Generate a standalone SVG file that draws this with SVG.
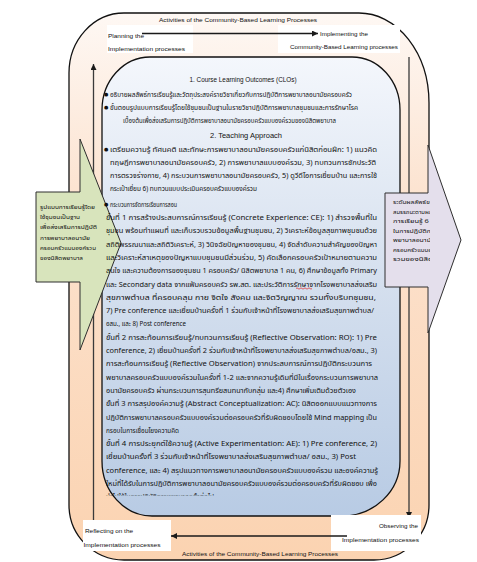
<svg xmlns="http://www.w3.org/2000/svg" width="477" height="562" viewBox="0 0 477 562">
<defs>
  <linearGradient id="gOuter" x1="0" y1="0" x2="0" y2="1">
    <stop offset="0" stop-color="#fef8f4"/>
    <stop offset="0.35" stop-color="#fce2ce"/>
    <stop offset="1" stop-color="#fbd3b1"/>
  </linearGradient>
  <linearGradient id="gInner" x1="0" y1="0" x2="0" y2="1">
    <stop offset="0" stop-color="#f4f7fc"/>
    <stop offset="0.5" stop-color="#d4dfee"/>
    <stop offset="1" stop-color="#b8cbe4"/>
  </linearGradient>
  <marker id="ah" viewBox="0 0 10 10" refX="10" refY="5" markerWidth="6" markerHeight="6" markerUnits="userSpaceOnUse" orient="auto">
    <path d="M0,0 L10,5 L0,10 z" fill="#1a1a1a"/>
  </marker>
  <clipPath id="cpInner"><rect x="100" y="50" width="300" height="445.5"/></clipPath>
  <clipPath id="cpR"><rect x="385" y="190" width="45" height="81"/></clipPath>
  <style>
    .th { font-family: 'Noto Sans Thai', 'Noto Sans Thai UI', Tahoma, 'Leelawadee UI', 'Noto Sans', 'DejaVu Sans', sans-serif; font-size: 7px; fill: #111; }
    .ths { font-family: 'Noto Sans Thai', 'Noto Sans Thai UI', Tahoma, 'Leelawadee UI', 'Noto Sans', 'DejaVu Sans', sans-serif; font-size: 6px; fill: #111; }
    .en { font-family: 'Liberation Sans', Arial, sans-serif; font-size: 7px; fill: #111; }
    .lbl { font-family: 'Liberation Sans', Arial, sans-serif; font-size: 6px; fill: #111; }
    .bul { font-family: 'DejaVu Sans', sans-serif; font-size: 5px; fill: #111; }
    .conn { stroke: #3a3a3a; stroke-width: 1.3; fill: none; }
    .hconn { stroke: #1a1a1a; stroke-width: 1.5; fill: none; }
    .wbox { fill: #ffffff; stroke: none; }
  </style>
</defs>

<rect x="0" y="0" width="477" height="562" fill="#ffffff"/>

<g id="outer-cycle">
  <path d="M124 13 H359 A70 90 0 0 1 429 103 V505 A55 55 0 0 1 374 560 H124 A55 55 0 0 1 69 505 V73 A55 60 0 0 1 124 13 Z" fill="url(#gOuter)" stroke="#111" stroke-width="1.3"/>
</g>

<g id="inner-content-box">
  <path d="M150 57 H352 A48 53 0 0 1 400 110 V461 A58 55 0 0 1 342 516 H152 A50 55 0 0 1 102 461 V110 A48 53 0 0 1 150 57 Z" fill="url(#gInner)" stroke="#111" stroke-width="1.3"/>
</g>

<g id="connectors-vertical">
  <line class="conn" x1="93.5" y1="530" x2="93.5" y2="64" marker-end="url(#ah)"/>
  <line class="conn" x1="409" y1="57" x2="409" y2="518" marker-end="url(#ah)"/>
</g>

<g id="node-planning">
  <rect class="wbox" x="107" y="25" width="86" height="28"/>
  <text class="lbl" x="108" y="37.5" textLength="36" lengthAdjust="spacingAndGlyphs">Planning the</text>
  <text class="lbl" x="108" y="50.5" textLength="77" lengthAdjust="spacingAndGlyphs">Implementation processes</text>
</g>

<g id="node-implementing">
  <rect class="wbox" x="278" y="25" width="122" height="28"/>
  <text class="lbl" x="320" y="36" textLength="48" lengthAdjust="spacingAndGlyphs">Implementing the</text>
  <text class="lbl" x="290" y="49" textLength="108" lengthAdjust="spacingAndGlyphs">Community-Based Learning processes</text>
</g>

<g id="node-reflecting">
  <rect class="wbox" x="83" y="520" width="88" height="31"/>
  <text class="lbl" x="85" y="532.5" textLength="48" lengthAdjust="spacingAndGlyphs">Reflecting on the</text>
  <text class="lbl" x="83.5" y="546.5" textLength="77" lengthAdjust="spacingAndGlyphs">Implementation processes</text>
</g>

<g id="node-observing">
  <rect class="wbox" x="331" y="515" width="90" height="36"/>
  <text class="lbl" x="379" y="527.5" textLength="39" lengthAdjust="spacingAndGlyphs">Observing the</text>
  <text class="lbl" x="342" y="541.5" textLength="77" lengthAdjust="spacingAndGlyphs">Implementation processes</text>
</g>

<g id="connectors">
  <line class="hconn" x1="142" y1="33.5" x2="318" y2="33.5" marker-end="url(#ah)"/>
  <line class="hconn" x1="347" y1="536" x2="171" y2="536" marker-end="url(#ah)"/>
</g>

<g id="cycle-labels">
  <text class="lbl" x="238" y="22" text-anchor="middle" textLength="158" lengthAdjust="spacingAndGlyphs">Activities of the Community-Based Learning Processes</text>
  <text class="lbl" x="260" y="556" text-anchor="middle" textLength="156" lengthAdjust="spacingAndGlyphs">Activities of the Community-Based Learning Processes</text>
</g>

<g id="node-input-arrow">
  <polygon points="36,192 80,192 80,139 121,243 80,350 80,282 36,282" fill="#d8e4bc" stroke="#2e2e2e" stroke-width="1"/>
  <text class="ths" x="40" y="209" textLength="55" lengthAdjust="spacingAndGlyphs">รูปแบบการเรียนรู้โดย</text>
  <text class="ths" x="40" y="219" textLength="40" lengthAdjust="spacingAndGlyphs">ใช้ชุมชนเป็นฐาน</text>
  <text class="ths" x="40" y="229" textLength="57" lengthAdjust="spacingAndGlyphs">เพื่อส่งเสริมการปฏิบัติ</text>
  <text class="ths" x="40" y="239.5" textLength="50" lengthAdjust="spacingAndGlyphs">การพยาบาลอนามัย</text>
  <text class="ths" x="40" y="250" textLength="56" lengthAdjust="spacingAndGlyphs">ครอบครัวแบบองค์รวม</text>
  <text class="ths" x="40" y="260" textLength="43" lengthAdjust="spacingAndGlyphs">ของนิสิตพยาบาล</text>
</g>

<g id="node-output-arrow">
  <polygon points="385,193 428,193 428,145 461,240 428,333 428,287 385,287" fill="#e4dfec" stroke="#2e2e2e" stroke-width="1"/>
  <g clip-path="url(#cpR)">
    <text class="ths" x="393" y="204" textLength="44" lengthAdjust="spacingAndGlyphs">ระดับผลลัพธ์ของ</text>
    <text class="ths" x="393" y="213.5" textLength="50" lengthAdjust="spacingAndGlyphs">สมรรถนะตามผลลัพธ์</text>
    <text class="ths" x="393" y="223" textLength="50" lengthAdjust="spacingAndGlyphs">การเรียนรู้ 6 ด้าน</text>
    <text class="ths" x="393" y="232.5" textLength="44" lengthAdjust="spacingAndGlyphs">ในการปฏิบัติการ</text>
    <text class="ths" x="393" y="242" textLength="42" lengthAdjust="spacingAndGlyphs">พยาบาลอนามัย</text>
    <text class="ths" x="393" y="251.5" textLength="46" lengthAdjust="spacingAndGlyphs">ครอบครัวแบบองค์</text>
    <text class="ths" x="393" y="261" textLength="40" lengthAdjust="spacingAndGlyphs">รวมของนิสิต</text>
    <text class="ths" x="415" y="273.5" textLength="18" lengthAdjust="spacingAndGlyphs">พยาบาล</text>
  </g>
</g>

<g id="node-content-text" clip-path="url(#cpInner)">
  <text class="en" x="243" y="81.5" text-anchor="middle" textLength="107" lengthAdjust="spacingAndGlyphs">1.  Course Learning Outcomes (CLOs)</text>
  <text class="bul" x="104" y="96">●</text>
  <text class="th" x="110" y="96.5" textLength="242" lengthAdjust="spacingAndGlyphs">อธิบายผลลัพธ์การเรียนรู้และวัตถุประสงค์รายวิชาเกี่ยวกับการปฏิบัติการพยาบาลอนามัยครอบครัว</text>
  <text class="bul" x="104" y="109">●</text>
  <text class="th" x="110" y="109.5" textLength="248" lengthAdjust="spacingAndGlyphs">ขั้นตอนรูปแบบการเรียนรู้โดยใช้ชุมชนเป็นฐานในรายวิชาปฏิบัติการพยาบาลชุมชนและการรักษาโรค</text>
  <text class="th" x="123" y="122.5" textLength="213" lengthAdjust="spacingAndGlyphs">เบื้องต้นเพื่อส่งเสริมการปฏิบัติการพยาบาลอนามัยครอบครัวแบบองค์รวมของนิสิตพยาบาล</text>
  <text class="en" x="246" y="137.5" text-anchor="middle" textLength="72" lengthAdjust="spacingAndGlyphs">2.  Teaching Approach</text>

  <text class="bul" x="104" y="151">●</text>
  <text class="th" x="110" y="151.5" textLength="267" lengthAdjust="spacingAndGlyphs">เตรียมความรู้ ทัศนคติ และทักษะการพยาบาลอนามัยครอบครัวแก่นิสิตก่อนฝึก: 1) แนวคิด</text>
  <text class="th" x="110" y="164.5" textLength="266" lengthAdjust="spacingAndGlyphs">ทฤษฎีการพยาบาลอนามัยครอบครัว, 2) การพยาบาลแบบองค์รวม, 3) ทบทวนการซักประวัติ</text>
  <text class="th" x="110" y="177.5" textLength="267" lengthAdjust="spacingAndGlyphs">การตรวจร่างกาย, 4) กระบวนการพยาบาลอนามัยครอบครัว, 5) ดูวีดีโอการเยี่ยมบ้าน  และการใช้</text>
  <text class="th" x="110" y="190.5" textLength="147" lengthAdjust="spacingAndGlyphs">กระเป๋าเยี่ยม 6) ทบทวนแบบประเมินครอบครัวแบบองค์รวม</text>
  <text class="bul" x="104" y="206">●</text>
  <text class="th" x="110" y="206.5" textLength="67" lengthAdjust="spacingAndGlyphs">กระบวนการจัดการเรียนการสอน</text>

  <text class="th" x="106" y="220" textLength="271" lengthAdjust="spacingAndGlyphs">ขั้นที่ 1 การสร้างประสบการณ์การเรียนรู้ (Concrete Experience: CE): 1) สำรวจพื้นที่ใน</text>
  <text class="th" x="106" y="233.3" textLength="271" lengthAdjust="spacingAndGlyphs">ชุมชน พร้อมทำแผนที่ และเก็บรวบรวมข้อมูลพื้นฐานชุมชน, 2) วิเคราะห์ข้อมูลสุขภาพชุมชนด้วย</text>
  <text class="th" x="106" y="246.6" textLength="271" lengthAdjust="spacingAndGlyphs">สถิติพรรณนาและสถิติวิเคราะห์, 3) วินิจฉัยปัญหาของชุมชน, 4) จัดลำดับความสำคัญของปัญหา</text>
  <text class="th" x="106" y="259.9" textLength="271" lengthAdjust="spacingAndGlyphs">และวิเคราะห์สาเหตุของปัญหาแบบชุมชนมีส่วนร่วม, 5) คัดเลือกครอบครัวเป้าหมายตามความ</text>
  <text class="th" x="106" y="273.2" textLength="271" lengthAdjust="spacingAndGlyphs">สนใจ และความต้องการของชุมชน 1 ครอบครัว/ นิสิตพยาบาล 1 คน, 6) ศึกษาข้อมูลทั้ง Primary</text>
  <text class="th" x="106" y="286.5" textLength="271" lengthAdjust="spacingAndGlyphs">และ Secondary data จากแฟ้มครอบครัว รพ.สต. และประวัติการรักษาจากโรงพยาบาลส่งเสริม</text>
  <path d="M296 288.5 q1 -1.3 2 0 t2 0 t2 0 t2 0 t2 0 t2 0 t2 0 t2 0" fill="none" stroke="#e02020" stroke-width="0.7"/>
  <text class="th" x="106" y="299.8" textLength="270" lengthAdjust="spacingAndGlyphs">สุขภาพตำบล ที่ครอบคลุม กาย จิตใจ สังคม และจิตวิญญาณ รวมทั้งบริบทชุมชน,</text>
  <text class="th" x="106" y="313.1" textLength="268" lengthAdjust="spacingAndGlyphs">7) Pre conference และเยี่ยมบ้านครั้งที่ 1 ร่วมกับเจ้าหน้าที่โรงพยาบาลส่งเสริมสุขภาพตำบล/</text>
  <text class="th" x="106" y="326.4" textLength="80" lengthAdjust="spacingAndGlyphs">อสม., และ 8) Post conference</text>
  <text class="th" x="106" y="339.7" textLength="271" lengthAdjust="spacingAndGlyphs">ขั้นที่ 2 การสะท้อนการเรียนรู้/ทบทวนการเรียนรู้ (Reflective Observation: RO): 1) Pre</text>
  <text class="th" x="106" y="353" textLength="271" lengthAdjust="spacingAndGlyphs">conference, 2) เยี่ยมบ้านครั้งที่ 2 ร่วมกับเจ้าหน้าที่โรงพยาบาลส่งเสริมสุขภาพตำบล/อสม., 3)</text>
  <text class="th" x="106" y="366.3" textLength="266" lengthAdjust="spacingAndGlyphs">การสะท้อนการเรียนรู้ (Reflective Observation) จากประสบการณ์การปฏิบัติกระบวนการ</text>
  <text class="th" x="106" y="379.6" textLength="272" lengthAdjust="spacingAndGlyphs">พยาบาลครอบครัวแบบองค์รวมในครั้งที่ 1-2 และจากความรู้เดิมที่มีในเรื่องกระบวนการพยาบาล</text>
  <text class="th" x="106" y="392.9" textLength="250" lengthAdjust="spacingAndGlyphs">อนามัยครอบครัว ผ่านกระบวนการสุนทรียสนทนากับกลุ่ม และ4) ศึกษาเพิ่มเติมด้วยตัวเอง</text>
  <text class="th" x="106" y="406.2" textLength="271" lengthAdjust="spacingAndGlyphs">ขั้นที่ 3 การสรุปองค์ความรู้ (Abstract Conceptualization: AC): นิสิตออกแบบแนวทางการ</text>
  <text class="th" x="106" y="419.5" textLength="271" lengthAdjust="spacingAndGlyphs">ปฏิบัติการพยาบาลครอบครัวแบบองค์รวมต่อครอบครัวที่รับผิดชอบโดยใช้ Mind mapping เป็น</text>
  <text class="th" x="106" y="432.8" textLength="73" lengthAdjust="spacingAndGlyphs">กรอบในการเชื่อมโยงความคิด</text>
  <text class="th" x="106" y="446.1" textLength="271" lengthAdjust="spacingAndGlyphs">ขั้นที่ 4 การประยุกต์ใช้ความรู้ (Active Experimentation: AE): 1) Pre conference, 2)</text>
  <text class="th" x="106" y="459.4" textLength="250" lengthAdjust="spacingAndGlyphs">เยี่ยมบ้านครั้งที่ 3 ร่วมกับเจ้าหน้าที่โรงพยาบาลส่งเสริมสุขภาพตำบล/ อสม., 3) Post</text>
  <text class="th" x="106" y="472.7" textLength="272" lengthAdjust="spacingAndGlyphs">conference, และ 4) สรุปแนวทางการพยาบาลอนามัยครอบครัวแบบองค์รวม และองค์ความรู้</text>
  <text class="th" x="106" y="486" textLength="271" lengthAdjust="spacingAndGlyphs">ใหม่ที่ได้รับในการปฏิบัติการพยาบาลอนามัยครอบครัวแบบองค์รวมต่อครอบครัวที่รับผิดชอบ เพื่อ</text>
  <text class="th" x="106" y="499.3" textLength="108" lengthAdjust="spacingAndGlyphs">นำไปใช้ในการปฏิบัติการพยาบาลครั้งต่อไป</text>
</g>
</svg>
